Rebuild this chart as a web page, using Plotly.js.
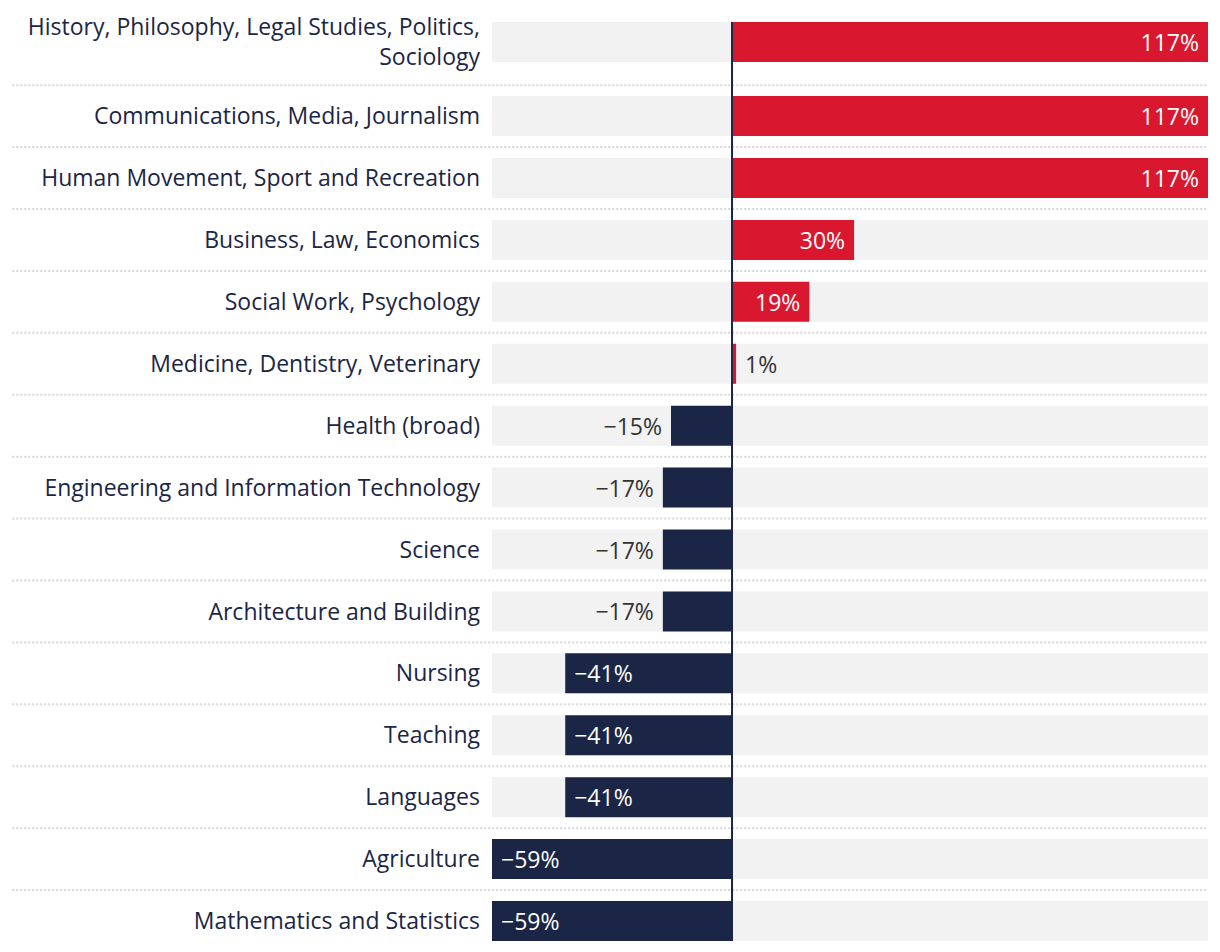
<!DOCTYPE html>
<html>
<head>
<meta charset="utf-8">
<script src="https://cdn.plot.ly/plotly-3.0.1.min.js"></script>
<style>
html,body{margin:0;padding:0;background:#fff;}
#chart{width:1220px;height:952px;}
</style>
</head>
<body>
<div id="chart"></div>
<script>
// ---- Data ----
const categories = [
  "History, Philosophy, Legal Studies, Politics,<br>Sociology",
  "Communications, Media, Journalism",
  "Human Movement, Sport and Recreation",
  "Business, Law, Economics",
  "Social Work, Psychology",
  "Medicine, Dentistry, Veterinary",
  "Health (broad)",
  "Engineering and Information Technology",
  "Science",
  "Architecture and Building",
  "Nursing",
  "Teaching",
  "Languages",
  "Agriculture",
  "Mathematics and Statistics"
];
const changePct = [117, 117, 117, 30, 19, 1, -15, -17, -17, -17, -41, -41, -41, -59, -59];

// ---- Styling ----
const RED = "#d9182f", NAVY = "#1b2646", GREY = "#f2f2f2";
const FONT = "'Open Sans', 'Noto Sans', sans-serif";
const FS = 23;
const NB = "\u00a0";

// row positions: multi-line labels get a little extra room
const EXTRA_PER_LINE = 0.195;
const pos = [];
let cur = 0;
categories.forEach((c, i) => {
  const lines = c.split("<br>").length;
  if (i > 0) cur += 1;
  pos.push(cur);
  cur += (lines - 1) * EXTRA_PER_LINE;
});

const xmin = Math.min(...changePct), xmax = Math.max(...changePct);
const barW = 0.646;

const labels = changePct.map(v => NB + (v < 0 ? "\u2212" : "") + Math.abs(v) + "%" + NB);
const inside = changePct.map(v => Math.abs(v) >= 18);

const bg = {
  type: "bar", orientation: "h",
  y: pos, x: pos.map(() => xmax - xmin), base: xmin,
  width: barW,
  marker: {color: GREY},
  hoverinfo: "skip", showlegend: false
};
const bars = {
  type: "bar", orientation: "h",
  y: pos, x: changePct,
  width: barW,
  marker: {color: changePct.map(v => v >= 0 ? RED : NAVY)},
  text: labels,
  textposition: inside.map(b => b ? "inside" : "outside"),
  insidetextanchor: "end",
  insidetextfont: {family: FONT, size: FS, color: "#ffffff"},
  outsidetextfont: {family: FONT, size: FS, color: "#333333"},
  constraintext: "none",
  cliponaxis: false,
  hoverinfo: "skip", showlegend: false
};

const shapes = [];
for (let i = 0; i < pos.length - 1; i++) {
  const y = pos[i + 1] - 0.5;
  shapes.push({type: "line", xref: "paper", yref: "y",
    x0: -0.67, x1: 1, y0: y, y1: y,
    line: {color: "#d6d6d6", width: 2, dash: "2px,2px"}, layer: "below"});
}
shapes.push({type: "line", xref: "x", yref: "y",
  x0: 0, x1: 0, y0: pos[0] - barW / 2, y1: pos[pos.length - 1] + barW / 2,
  line: {color: NAVY, width: 2}, layer: "above"});

const layout = {
  width: 1220, height: 952,
  margin: {l: 492, r: 12, t: 0, b: 0, pad: 0},
  paper_bgcolor: "#fff", plot_bgcolor: "#fff",
  barmode: "overlay",
  font: {family: FONT, size: FS, color: NAVY},
  xaxis: {range: [xmin, xmax], showgrid: false, zeroline: false,
          showticklabels: false, showline: false, fixedrange: true},
  yaxis: {range: [pos[pos.length - 1] + 0.5, -0.68], tickvals: pos, ticktext: categories,
          showgrid: false, zeroline: false, showline: false, ticks: "",
          ticklabelstandoff: 11,
          tickfont: {family: FONT, size: FS, color: NAVY}, fixedrange: true},
  shapes: shapes
};

Plotly.newPlot("chart", [bg, bars], layout, {displayModeBar: false, staticPlot: true});
</script>
</body>
</html>
